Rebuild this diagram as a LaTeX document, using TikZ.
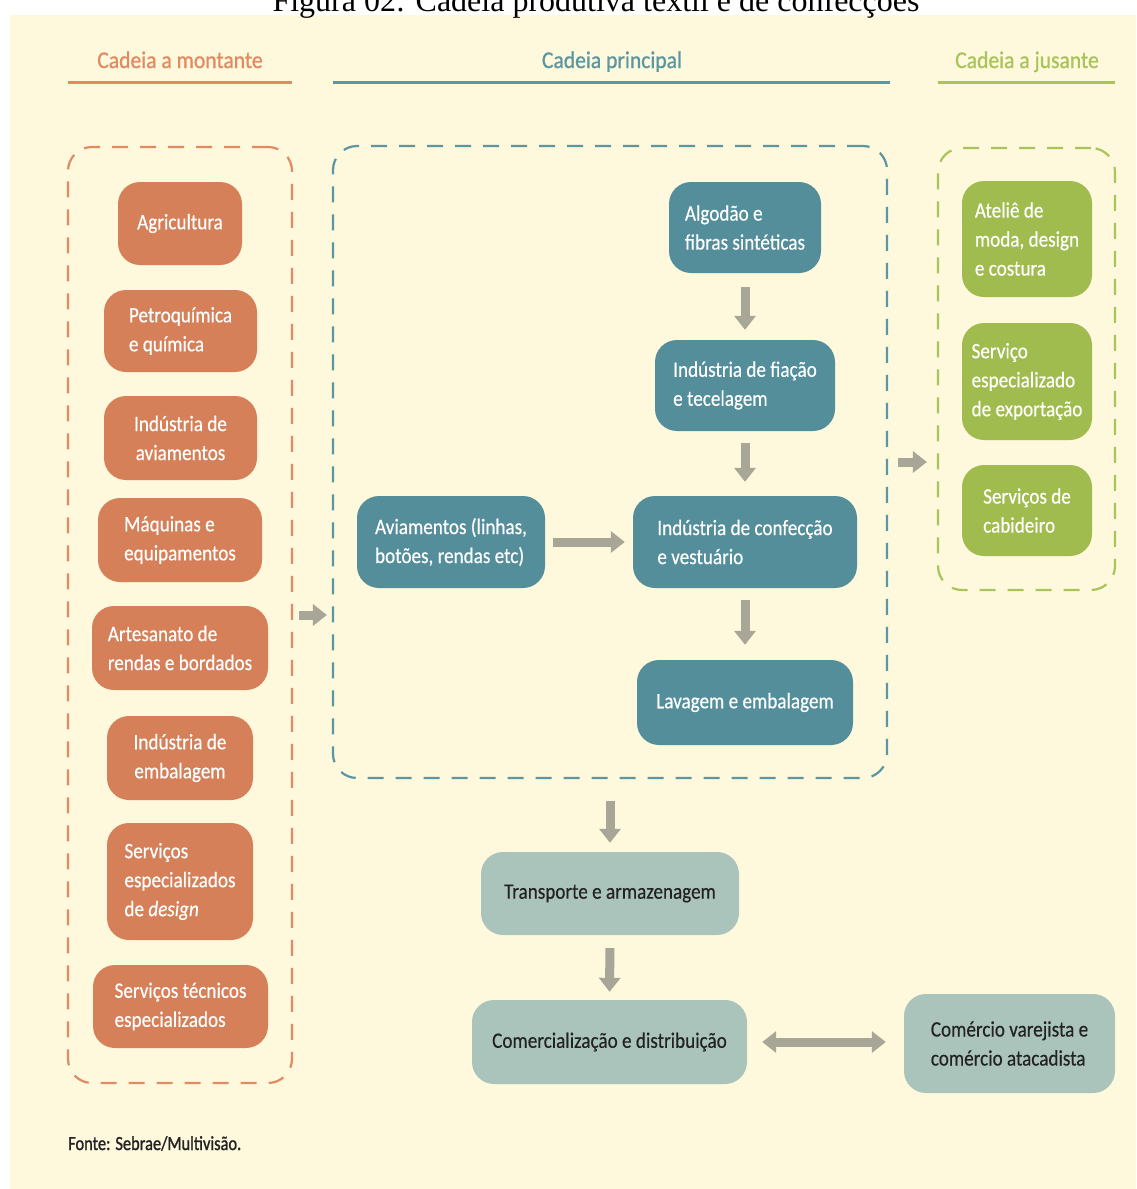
\documentclass[tikz,border=0pt]{standalone}
\usepackage{fontspec}
\setmainfont{Carlito}
\newfontfamily\boxfont{Carlito}[FakeStretch=0.87,FakeBold=0.4]
\newfontfamily\headfont{Carlito}[FakeStretch=0.9,FakeBold=0.8]
\newfontfamily\srcfont{Carlito}[FakeStretch=0.82,FakeBold=1.2]
\newfontfamily\capfont{Liberation Serif}
\usetikzlibrary{arrows.meta}

\definecolor{cream}{HTML}{FEF8DC}
\definecolor{orangeF}{HTML}{D6805A}
\definecolor{orangeL}{HTML}{E08B62}
\definecolor{tealF}{HTML}{548E9B}
\definecolor{tealL}{HTML}{5B96A3}
\definecolor{greenF}{HTML}{A0BC4E}
\definecolor{greenL}{HTML}{A9C45A}
\definecolor{grayF}{HTML}{AAC3BB}
\definecolor{arrowgray}{HTML}{A8A696}
\definecolor{darktext}{HTML}{222222}

\tikzset{
  box/.style={rounded corners=22pt, inner sep=0pt, align=left,
    font=\boxfont\fontsize{22}{29}\selectfont},
  obox/.style={box, fill=orangeF, text=white},
  tbox/.style={box, fill=tealF, text=white},
  gbox/.style={box, fill=greenF, text=white},
  lbox/.style={box, fill=grayF, text=darktext},
  group/.style={draw, line width=2.2pt, dash pattern=on 16pt off 12pt,
    rounded corners=24pt, inner sep=0pt},
  headtext/.style={anchor=base, font=\headfont\fontsize{24}{28}\selectfont},
  headline/.style={line width=3pt},
  flow/.style={draw=arrowgray, line width=9pt,
    -{Triangle[width=21pt,length=14pt]}},
  flowboth/.style={draw=arrowgray, line width=9pt,
    {Triangle[width=21pt,length=14pt]}-{Triangle[width=21pt,length=14pt]}},
}

\begin{document}
\begin{tikzpicture}[x=1pt, y=-1pt]
\useasboundingbox (0,0) rectangle (1136,1189);

% panel and title
\fill[cream] (10,15) rectangle (1136,1189);
\node[anchor=base, font=\capfont\fontsize{32}{34}\selectfont] (cap) at (596,11)
  {Figura 02: Cadeia produtiva textil e de confecções};

% column headings
\node[headtext, text=orangeL] (h1) at (180,68) {Cadeia a montante};
\node[headtext, text=tealL] (h2) at (612,68) {Cadeia principal};
\node[headtext, text=greenL] (h3) at (1027,68) {Cadeia a jusante};
\draw[headline, orangeL] (68,82) -- (292,82);
\draw[headline, tealL] (333,82) -- (890,82);
\draw[headline, greenL] (938,82) -- (1115,82);

% dashed groups
\node[group, draw=orangeL, minimum width=224pt, minimum height=936pt] (cl) at (180,615) {};
\node[group, draw=tealL, minimum width=554pt, minimum height=632pt] (cm) at (610,462) {};
\node[group, draw=greenL, minimum width=177pt, minimum height=442pt] (cr) at (1026.5,369) {};

% upstream chain
\node[obox, align=center, minimum width=124pt, minimum height=83pt] (agri) at (180,223.5) {Agricultura};
\node[obox, minimum width=153pt, minimum height=82pt] (petro) at (180.5,331) {Petroquímica\\e química};
\node[obox, align=center, minimum width=153pt, minimum height=84pt] (aviind) at (180.5,438) {Indústria de\\aviamentos};
\node[obox, minimum width=164pt, minimum height=84pt] (maq) at (180,540) {Máquinas e\\equipamentos};
\node[obox, minimum width=176pt, minimum height=84pt] (art) at (180,648) {Artesanato de\\rendas e bordados};
\node[obox, align=center, minimum width=146pt, minimum height=84pt] (emb) at (180,758) {Indústria de\\embalagem};
\node[obox, minimum width=146pt, minimum height=117pt] (design) at (180,881.5) {Serviços\\especializados\\de \textit{design}};
\node[obox, minimum width=175pt, minimum height=83pt] (tec) at (180.5,1006.5) {Serviços técnicos\\especializados};

% main chain
\node[tbox, minimum width=152pt, minimum height=91pt] (alg) at (745,227.5) {Algodão e\\fibras sintéticas};
\node[tbox, minimum width=180pt, minimum height=91pt] (fia) at (745,385.5) {Indústria de fiação\\e tecelagem};
\node[tbox, minimum width=188pt, minimum height=92pt] (avi) at (451,542) {Aviamentos (linhas,\\botões, rendas etc)};
\node[tbox, minimum width=224pt, minimum height=92pt] (conf) at (745,542) {Indústria de confecção\\e vestuário};
\node[tbox, align=center, minimum width=216pt, minimum height=85pt] (lav) at (745,702.5) {Lavagem e embalagem};

% downstream chain
\node[gbox, minimum width=130pt, minimum height=116pt] (atel) at (1027,239) {Ateliê de\\moda, design\\e costura};
\node[gbox, minimum width=130pt, minimum height=117pt] (exp) at (1027,381.5) {Serviço\\especializado\\de exportação};
\node[gbox, minimum width=130pt, minimum height=91pt] (cab) at (1027,510.5) {Serviços de\\cabideiro};

% distribution
\node[lbox, align=center, minimum width=258pt, minimum height=83pt] (trans) at (610,893.5) {Transporte e armazenagem};
\node[lbox, align=center, minimum width=275pt, minimum height=84pt] (comd) at (609.5,1042) {Comercialização e distribuição};
\node[lbox, minimum width=211pt, minimum height=99pt] (var) at (1009.5,1043.5) {Comércio varejista e\\comércio atacadista};

% flow arrows
\draw[flow, shorten <=14pt, shorten >=10pt] (alg.south) -- (fia.north);
\draw[flow, shorten <=12pt, shorten >=14pt] (fia.south) -- (conf.north);
\draw[flow, shorten <=12pt, shorten >=15pt] (conf.south) -- (lav.north);
\draw[flow, shorten <=8pt, shorten >=8pt] (avi.east) -- (conf.west);
\draw[flow, shorten <=6pt, shorten >=5pt] (cl.east) -- (cl.east -| cm.west);
\draw[flow, shorten <=10pt, shorten >=10pt] (cm.east) -- (cm.east -| cr.west);
\draw[flow, shorten <=22pt, shorten >=9pt] (cm.south) -- (trans.north);
\draw[flow, shorten <=13pt, shorten >=8pt] (trans.south) -- (comd.north);
\draw[flowboth, shorten <=15pt, shorten >=18pt] (comd.east) -- (comd.east -| var.west);

% source
\node[anchor=base west, inner sep=0pt, text=darktext, font=\srcfont\fontsize{20}{22}\selectfont] (src) at (68,1150) {Fonte: Sebrae/Multivisão.};
\end{tikzpicture}
\end{document}
